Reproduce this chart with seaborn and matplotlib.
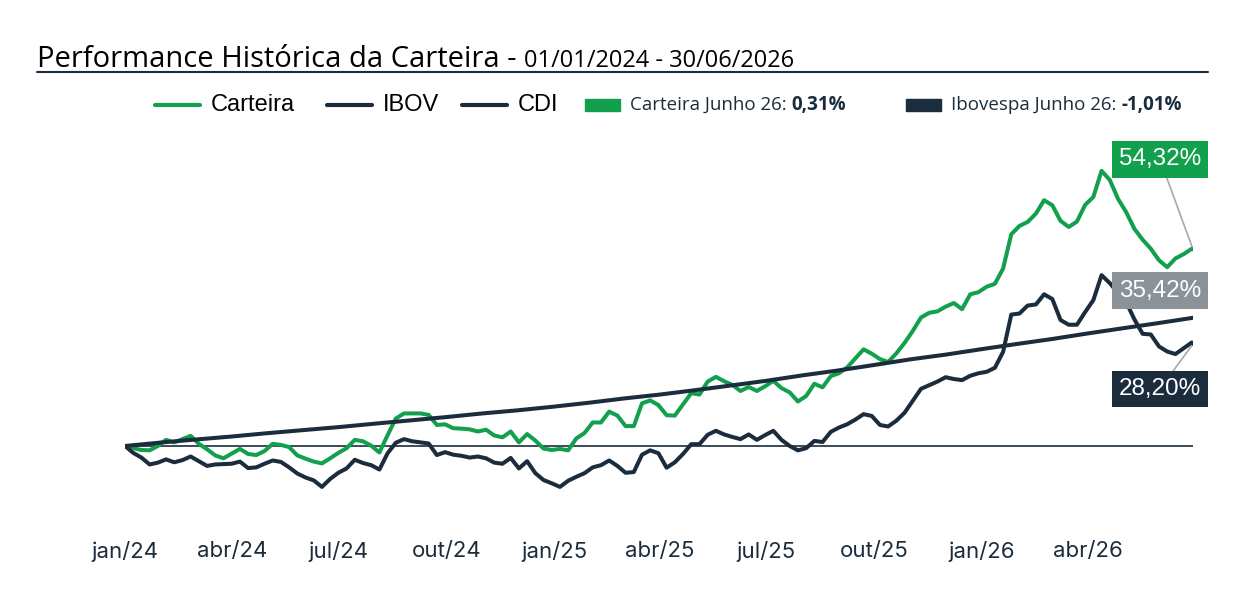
"""Performance histórica da carteira contra IBOV e CDI."""

import matplotlib
matplotlib.use("Agg")
import matplotlib.pyplot as plt
import pandas as pd
import seaborn as sns
from matplotlib.lines import Line2D
from matplotlib.patches import Rectangle

sns.set_theme(style="white")
plt.rcParams["font.family"] = ["Open Sans", "DejaVu Sans"]

VERDE = "#12a04c"
AZUL = "#1b2c3d"
CINZA = "#8b9399"

INICIO = "2024-01-01"
FIM = "2026-06-30"

# retorno acumulado (%), lido semana a semana + ponto final
carteira = [
    0.0, -0.6, -1.1, -1.2, 0.0, 1.7, 1.0, 1.9, 2.8, 0.6,
    -0.9, -2.6, -3.4, -2.1, -0.8, -2.2, -2.5, -1.4, 0.6, 0.3,
    -0.3, -2.6, -3.5, -4.3, -4.8, -3.4, -1.9, -0.6, 1.7, 1.3,
    0.1, -1.8, 3.0, 7.6, 9.0, 9.0, 9.0, 8.6, 5.8, 6.0,
    4.9, 4.8, 4.6, 4.0, 4.5, 2.9, 2.4, 4.0, 1.0, 3.3,
    1.5, -0.7, -1.1, -0.8, -1.2, 2.1, 3.6, 6.5, 6.5, 9.5,
    8.4, 5.5, 5.5, 11.8, 12.6, 11.3, 8.5, 8.4, 11.5, 14.6,
    14.2, 17.8, 19.1, 17.9, 16.9, 15.2, 16.3, 15.2, 16.5, 18.0,
    16.0, 14.8, 12.3, 13.8, 17.2, 16.2, 19.3, 20.1, 21.7, 24.2,
    26.7, 25.5, 24.0, 23.2, 25.6, 28.5, 31.8, 35.5, 36.8, 37.2,
    38.5, 39.5, 37.8, 41.9, 42.5, 44.0, 44.8, 49.0, 58.5, 60.8,
    61.9, 64.2, 67.9, 66.5, 62.2, 60.5, 62.0, 66.6, 68.8, 76.0,
    73.5, 68.3, 64.6, 60.0, 57.0, 54.5, 51.3, 49.4, 51.8, 53.0,
    54.5, 54.32,
]
ibov = [
    0.0, -1.9, -3.2, -5.1, -4.6, -3.7, -4.5, -3.9, -2.9, -4.2,
    -5.5, -5.1, -5.0, -4.9, -4.3, -6.1, -5.9, -4.9, -4.0, -4.4,
    -5.9, -7.6, -8.7, -9.5, -11.3, -9.1, -7.4, -6.2, -3.8, -4.7,
    -5.3, -6.5, -2.0, 0.9, 1.9, 1.3, 1.0, 0.7, -2.5, -1.7,
    -2.4, -2.7, -3.2, -2.9, -3.4, -4.6, -4.9, -3.3, -6.2, -4.2,
    -7.5, -9.4, -10.3, -11.3, -9.6, -8.5, -7.5, -5.9, -5.3, -4.0,
    -5.5, -7.4, -7.2, -2.4, -1.2, -2.0, -6.0, -4.5, -2.2, 0.5,
    0.5, 3.1, 4.2, 3.2, 2.5, 1.9, 3.2, 1.7, 3.0, 4.2,
    1.7, 0.0, -1.2, -0.6, 1.4, 1.1, 3.9, 5.1, 6.0, 7.3,
    8.8, 8.3, 5.8, 5.4, 7.0, 9.2, 12.5, 15.8, 16.8, 17.8,
    19.0, 18.5, 18.2, 19.4, 20.1, 20.5, 21.6, 26.0, 36.3, 36.6,
    38.8, 39.1, 41.9, 40.6, 34.8, 33.5, 33.5, 37.0, 40.3, 47.2,
    45.0, 42.3, 39.7, 35.0, 31.0, 30.8, 27.5, 26.1, 25.4, 27.0,
    28.6, 28.20,
]
# CDI acumulado (%) no início de cada mês + ponto final
cdi = [
    0.0, 0.97, 1.78, 2.62, 3.53, 4.39, 5.21, 6.17, 7.09, 7.99,
    9.00, 9.86, 10.88, 12.00, 13.11, 14.20, 15.41, 16.72, 18.01, 19.52,
    20.90, 22.38, 23.94, 25.24, 26.77, 28.24, 29.52, 31.08, 32.52, 33.98,
    35.42,
]

ticks_x = ["2024-01-01", "2024-04-01", "2024-07-01", "2024-10-01", "2025-01-01",
           "2025-04-01", "2025-07-01", "2025-10-01", "2026-01-01", "2026-04-01"]
rotulos_x = ["jan/24", "abr/24", "jul/24", "out/24", "jan/25",
             "abr/25", "jul/25", "out/25", "jan/26", "abr/26"]

rotulos_finais = {"Carteira": "54,32%", "CDI": "35,42%", "IBOV": "28,20%"}
junho_carteira = "0,31%"
junho_ibov = "-1,01%"

# monta tabela longa
datas_sem = list(pd.date_range(INICIO, periods=len(carteira) - 1, freq="7D")) + [pd.Timestamp(FIM)]
datas_cdi = list(pd.date_range(INICIO, periods=len(cdi) - 1, freq="MS")) + [pd.Timestamp(FIM)]
df = pd.concat([
    pd.DataFrame({"data": datas_sem, "valor": carteira, "serie": "Carteira"}),
    pd.DataFrame({"data": datas_sem, "valor": ibov, "serie": "IBOV"}),
    pd.DataFrame({"data": datas_cdi, "valor": cdi, "serie": "CDI"}),
])

W, H = 1240, 610
fig = plt.figure(figsize=(W / 100, H / 100), dpi=100)


def fx(px):
    return px / W


def fy(py):
    return 1 - py / H


# eixo: zero em y=446 px, 3.62 px por ponto percentual
y_min, y_max = -20, 82
topo = 446 - y_max * 3.62
base = 446 - y_min * 3.62
ax = fig.add_axes([fx(125), fy(base), (1193 - 125) / W, (base - topo) / H])

cores = {"Carteira": VERDE, "IBOV": AZUL, "CDI": AZUL}
sns.lineplot(data=df, x="data", y="valor", hue="serie", hue_order=["Carteira", "IBOV", "CDI"],
             palette=cores, linewidth=2.9, estimator=None, legend=False, ax=ax)
for ln in ax.lines:
    ln.set_solid_capstyle("round")
    ln.set_solid_joinstyle("round")
ax.axhline(0, color=AZUL, lw=1.2, zorder=1)

ax.set_xlim(pd.Timestamp(INICIO), pd.Timestamp(FIM))
ax.set_ylim(y_min, y_max)
ax.set_xticks(pd.to_datetime(ticks_x))
ax.set_xticklabels(rotulos_x, fontsize=16, color=AZUL, family=["Inter", "DejaVu Sans"])
ax.tick_params(axis="x", length=0, pad=16)
ax.set_yticks([])
ax.set_xlabel("")
ax.set_ylabel("")
for s in ax.spines.values():
    s.set_visible(False)

# rótulos finais
fim = pd.Timestamp(FIM)
caixas = [
    ("Carteira", carteira[-1], VERDE, (-33, 90), True),
    ("CDI", cdi[-1], CINZA, (-33, 27), False),
    ("IBOV", ibov[-1], AZUL, (-33, -45), True),
]
for nome, val, cor, desl, ligar in caixas:
    seta = dict(arrowstyle="-", color="#a8a8a8", lw=1.2, shrinkA=0, shrinkB=2) if ligar else None
    ax.annotate(rotulos_finais[nome], xy=(fim, val), xytext=desl, textcoords="offset pixels",
                ha="center", va="center", fontsize=17.5, color="white",
                family=["Liberation Sans", "DejaVu Sans"], annotation_clip=False,
                bbox=dict(boxstyle="square,pad=0.3", fc=cor, ec="none"),
                arrowprops=seta)

# título
rend = fig.canvas.get_renderer()
t1 = fig.text(fx(37), fy(67), "Performance Histórica da Carteira - ", fontsize=21,
              color="black", va="baseline")
bb = t1.get_window_extent(rend)
fig.text(bb.x1 / W, fy(67), "01/01/2024 - 30/06/2026", fontsize=17, color="black", va="baseline")
fig.add_artist(Line2D([fx(37), fx(1208)], [fy(72), fy(72)], color=AZUL, lw=1.5))

# legenda
y_leg = fy(105)
for x0, x1, cor, txt in [(155, 200, VERDE, "Carteira"), (327, 372, AZUL, "IBOV"), (462, 507, AZUL, "CDI")]:
    fig.add_artist(Line2D([fx(x0), fx(x1)], [y_leg, y_leg], color=cor, lw=3, solid_capstyle="round"))
    fig.text(fx(x1 + 11), y_leg, txt, fontsize=17, color="black", va="center",
             family=["Liberation Sans", "DejaVu Sans"])

for x0, cor, txt, val in [(585, VERDE, "Carteira Junho 26: ", junho_carteira),
                          (906, AZUL, "Ibovespa Junho 26: ", junho_ibov)]:
    fig.add_artist(Rectangle((fx(x0), fy(111)), 35 / W, 12 / H, color=cor))
    t = fig.text(fx(x0 + 45), y_leg, txt, fontsize=13.5, color=AZUL, va="center")
    bb = t.get_window_extent(rend)
    fig.text(bb.x1 / W, y_leg, val, fontsize=13.5, color=AZUL, va="center", fontweight="bold")

fig.savefig("out.png", dpi=100, facecolor="white")
